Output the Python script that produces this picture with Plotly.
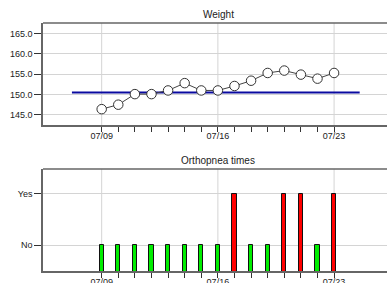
import plotly.graph_objects as go

# ---- data ----
dates = ["2013-07-%02d" % d for d in range(9, 24)]
weight = [146.4, 147.5, 150.1, 150.1, 151.0, 152.8, 151.0, 151.0,
          152.1, 153.4, 155.3, 155.9, 154.9, 153.9, 155.3]
target_weight = 150.5
target_span = ["2013-07-07 05:00", "2013-07-24 13:00"]
orthopnea = ["No", "No", "No", "No", "No", "No", "No", "No",
             "Yes", "No", "No", "Yes", "Yes", "No", "Yes"]
orth_levels = {"No": 1, "Yes": 2}
y_ticks_weight = [145, 150, 155, 160, 165]
major_dates = ["2013-07-09", "2013-07-16", "2013-07-23"]
x_range = ["2013-07-05 11:10", "2013-07-26 04:30"]

H = 283.0
def dom(top_px, bot_px):
    return [(H - bot_px) / H, (H - top_px) / H]

font = dict(family="Liberation Sans, Arial, sans-serif", size=9, color="#222")
grid = "#d4d4d4"
axcol = "#666"
day_ms = 86400000

tick_text = [d[5:7] + "/" + d[8:10] if d in major_dates else "" for d in dates]

fig = go.Figure()

fig.add_trace(go.Scatter(x=target_span, y=[target_weight, target_weight], mode="lines",
                         line=dict(color="#0a0aa0", width=2), xaxis="x", yaxis="y",
                         hoverinfo="skip"))
fig.add_trace(go.Scatter(x=dates, y=weight, mode="lines+markers",
                         line=dict(color="#444", width=1),
                         marker=dict(size=9.5, color="white", line=dict(color="#333", width=1)),
                         xaxis="x", yaxis="y"))

yvals = [orth_levels[v] for v in orthopnea]
colors = ["#ff0000" if v == "Yes" else "#00ee00" for v in orthopnea]
fig.add_trace(go.Bar(x=dates, y=yvals, marker=dict(color=colors, line=dict(color="#111", width=1)),
                     width=0.26 * day_ms, xaxis="x2", yaxis="y2"))

xcommon = dict(type="date", range=x_range, tickmode="array", tickvals=dates, ticktext=tick_text,
               ticks="outside", ticklen=5, tickcolor="#333", ticklabelstandoff=-4,
               showgrid=False, showline=True, linecolor=axcol,
               linewidth=1.5, mirror=False, zeroline=False, automargin=False,
               tickfont=font)

shapes = []
for xa, ya in (("x", "y"), ("x2", "y2")):
    for d in major_dates:
        shapes.append(dict(type="line", xref=xa, x0=d, x1=d, yref=ya + " domain", y0=0, y1=1,
                           line=dict(color=grid, width=1), layer="below"))
    shapes.append(dict(type="line", xref=xa + " domain", x0=0, x1=1.01, yref=ya + " domain",
                       y0=1, y1=1, line=dict(color=axcol, width=1.5), layer="above"))

fig.update_layout(
    width=387, height=283, autosize=False,
    margin=dict(l=43, r=0, t=0, b=0),
    paper_bgcolor="white", plot_bgcolor="white",
    showlegend=False, template="none", bargap=0,
    shapes=shapes,
    xaxis=dict(domain=[0, 1], anchor="y", **xcommon),
    yaxis=dict(domain=dom(23, 125), range=[142.5, 167.6], tickvals=y_ticks_weight,
               tickformat=".1f", ticks="outside", ticklen=7, tickcolor="#333",
               showgrid=True, gridcolor=grid, showline=True, linecolor=axcol, linewidth=1.5,
               mirror=False, side="left",
               zeroline=False, automargin=False, tickfont=font, anchor="x"),
    xaxis2=dict(domain=[0, 1], anchor="y2", **xcommon),
    yaxis2=dict(domain=dom(169, 271), range=[0.5, 2.48], tickvals=[1, 2],
                ticktext=["No", "Yes"], ticks="outside", ticklen=7, tickcolor="#333",
                showgrid=True, gridcolor=grid, showline=True, linecolor=axcol, linewidth=1.5,
                mirror=False, side="left",
                zeroline=False, automargin=False, tickfont=font, anchor="x2"),
    annotations=[
        dict(text="Weight", x=(218 - 43) / 344, y=(H - 14.5) / H, xref="paper", yref="paper",
             xanchor="center", yanchor="middle", showarrow=False,
             font=dict(family=font["family"], size=10, color="#222")),
        dict(text="Orthopnea times", x=(218 - 43) / 344, y=(H - 160) / H, xref="paper",
             yref="paper", xanchor="center", yanchor="middle", showarrow=False,
             font=dict(family=font["family"], size=10, color="#222")),
    ],
)

fig.write_html("out.html", config={"displayModeBar": False},
               post_script="document.body.style.margin='0';document.body.style.overflow='hidden';")
